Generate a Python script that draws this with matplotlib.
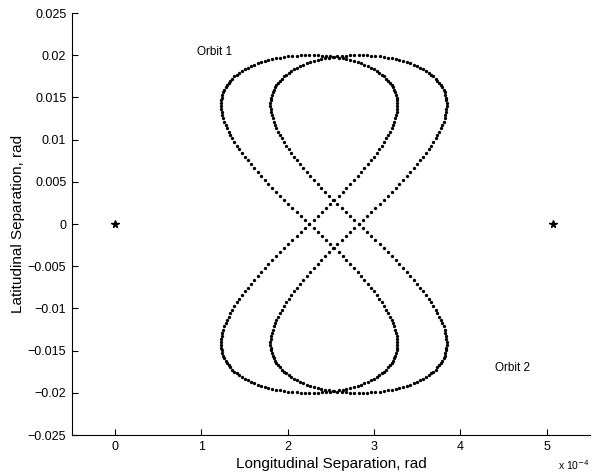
import numpy as np
import matplotlib.pyplot as plt

plt.rcParams['font.family'] = ['Liberation Sans', 'DejaVu Sans']

# orbit shape (x in units of 1e-4 rad)
orbit_names = ["Orbit 1", "Orbit 2"]
orbit_center_x = [2.25, 2.82]
orbit_half_width = [1.02, 1.02]
orbit_half_height = [0.020, 0.020]
n_samples = 260

# the two stars on the y = 0 line
star_x = [0.0, 5.07]
star_y = [0.0, 0.0]

xticks = [0, 1, 2, 3, 4, 5]
yticks = [0.025, 0.02, 0.015, 0.01, 0.005, 0, -0.005, -0.01, -0.015, -0.02, -0.025]
ytick_labels = ["0.025", "0.02", "0.015", "0.01", "0.005", "0",
                "\u22120.005", "\u22120.01", "\u22120.015", "\u22120.02", "\u22120.025"]

fig = plt.figure(figsize=(6.02, 4.75), dpi=100)
ax = fig.add_axes([0.1193, 0.0842, 0.8607, 0.8884])

t = np.linspace(0, 2 * np.pi, n_samples, endpoint=False)
for cx, hw, hh in zip(orbit_center_x, orbit_half_width, orbit_half_height):
    ax.plot(cx + hw * np.sin(2 * t), hh * np.sin(t), linestyle='none',
            marker='o', markersize=2.4, markeredgewidth=0, color='black')

ax.plot(star_x, star_y, linestyle='none', marker='*', markersize=5.5,
        color='black')

ax.text(0.95, 0.0204, orbit_names[0], fontsize=8.5, va='center', ha='left')
ax.text(4.4, -0.0171, orbit_names[1], fontsize=8.5, va='center', ha='left')

ax.set_xlim(-0.5, 5.5)
ax.set_ylim(-0.025, 0.025)
ax.set_xticks(xticks)
ax.set_yticks(yticks)
ax.set_yticklabels(ytick_labels)
ax.tick_params(direction='in', length=4, labelsize=9, width=0.8, pad=4)
ax.spines['top'].set_visible(False)
ax.spines['right'].set_visible(False)
ax.set_xlabel("Longitudinal Separation, rad", fontsize=11, labelpad=3)
ax.set_ylabel("Latitudinal Separation, rad", fontsize=11, labelpad=2)

fig.text(558 / 602, 1 - 465 / 475, "x 10$^{-4}$", fontsize=7.5, va='center', ha='left')

fig.savefig("out.png", dpi=100)
